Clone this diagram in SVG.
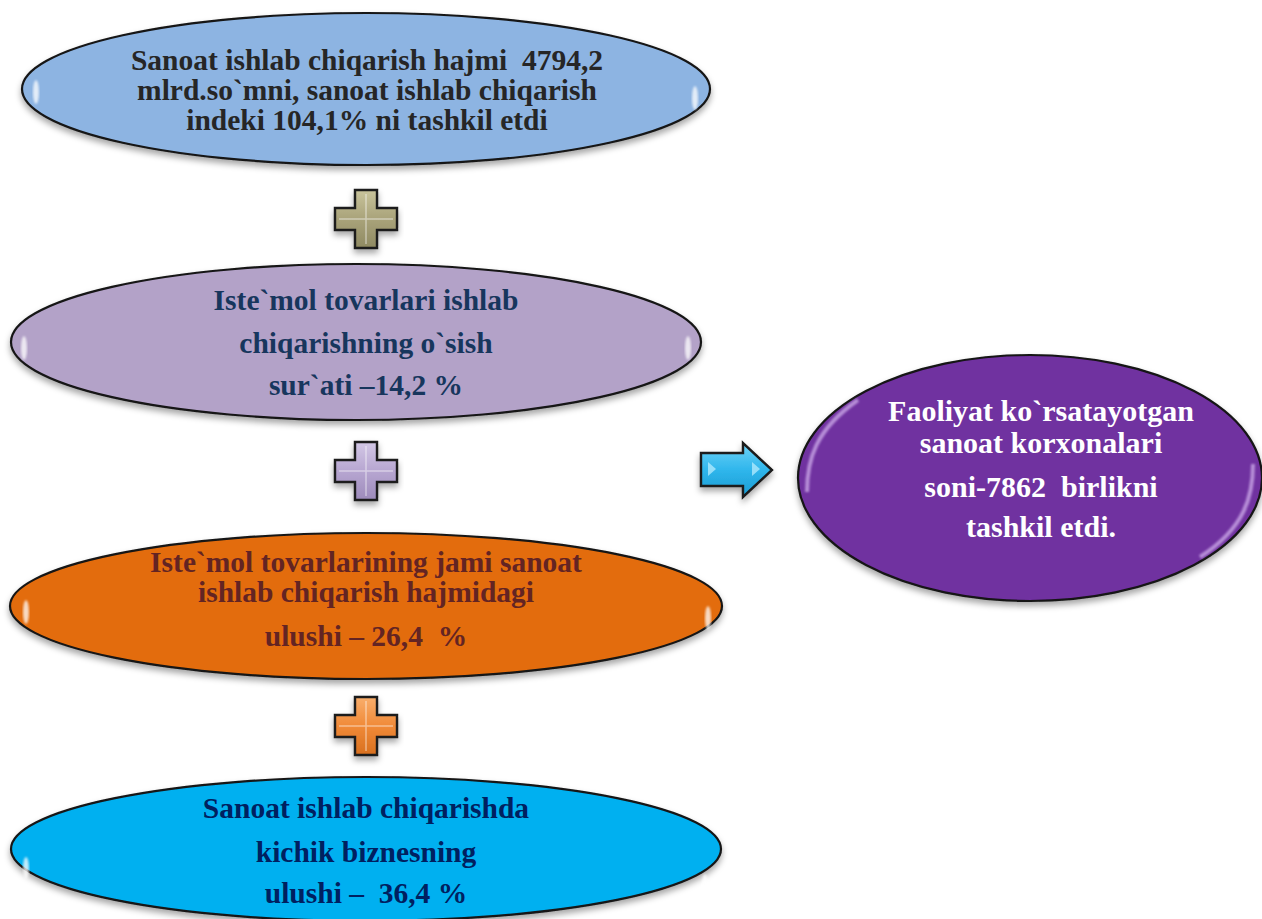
<svg xmlns="http://www.w3.org/2000/svg" width="1262" height="919" viewBox="0 0 1262 919">
<defs>
<style>
.t{font-family:"Liberation Serif","Times New Roman",serif;font-weight:bold;font-size:29.5px;text-anchor:middle}
.tr{font-size:30px}
.e{stroke:#151515;stroke-width:2.2}
.hl{fill:#ffffff;opacity:0.75}
.plus{stroke:#1a1a1a;stroke-width:2.4;stroke-linejoin:miter}
.pl{stroke:#ffffff;stroke-opacity:0.45;stroke-width:1.5;fill:none}
</style>
<filter id="sh" x="-10%" y="-20%" width="120%" height="150%">
<feDropShadow dx="0" dy="4" stdDeviation="3" flood-color="#000" flood-opacity="0.35"/>
</filter>
<filter id="bl"><feGaussianBlur stdDeviation="1.2"/></filter>
<linearGradient id="gP1" x1="0" y1="0" x2="0" y2="1"><stop offset="0" stop-color="#c9c49c"/><stop offset="0.5" stop-color="#a9a37a"/><stop offset="1" stop-color="#8f8a62"/></linearGradient>
<linearGradient id="gP2" x1="0" y1="0" x2="0" y2="1"><stop offset="0" stop-color="#d3c8e6"/><stop offset="0.5" stop-color="#b7a6d1"/><stop offset="1" stop-color="#9d8bbb"/></linearGradient>
<linearGradient id="gP3" x1="0" y1="0" x2="0" y2="1"><stop offset="0" stop-color="#f9ae6c"/><stop offset="0.5" stop-color="#f08a38"/><stop offset="1" stop-color="#d8701f"/></linearGradient>
<linearGradient id="gA" x1="0" y1="0" x2="0" y2="1"><stop offset="0" stop-color="#6fd3f7"/><stop offset="0.5" stop-color="#2fb6ec"/><stop offset="1" stop-color="#1a9bd2"/></linearGradient>
<path id="plusShape" d="M-11,-29 H11 V-11 H31 V11 H11 V29 H-11 V11 H-31 V-11 H-11 Z"/>
</defs>

<g id="node1">
<ellipse class="e" cx="366" cy="89" rx="344" ry="76" fill="#8db4e2" filter="url(#sh)"/>
<ellipse class="hl" cx="36" cy="92" rx="3" ry="12" filter="url(#bl)"/>
<ellipse class="hl" cx="695" cy="98" rx="3" ry="12" filter="url(#bl)"/>
<text class="t" fill="#262626" xml:space="preserve"><tspan x="367" y="70">Sanoat ishlab chiqarish hajmi  4794,2</tspan><tspan x="367" y="100">mlrd.so`mni, sanoat ishlab chiqarish</tspan><tspan x="367" y="130">indeki 104,1% ni tashkil etdi</tspan></text>
</g>

<g id="node2">
<ellipse class="e" cx="356" cy="342" rx="345" ry="78" fill="#b3a2c8" filter="url(#sh)"/>
<ellipse class="hl" cx="24" cy="348" rx="3" ry="12" filter="url(#bl)"/>
<ellipse class="hl" cx="688" cy="348" rx="3" ry="12" filter="url(#bl)"/>
<text class="t" fill="#17365d" xml:space="preserve"><tspan x="366" y="310">Iste`mol tovarlari ishlab</tspan><tspan x="366" y="353">chiqarishning o`sish</tspan><tspan x="366" y="395">sur`ati –14,2 %</tspan></text>
</g>

<g id="node3">
<ellipse class="e" cx="366" cy="606" rx="356" ry="73" fill="#e36c0a" filter="url(#sh)"/>
<ellipse class="hl" cx="26" cy="612" rx="3" ry="12" filter="url(#bl)"/>
<ellipse class="hl" cx="708" cy="618" rx="3" ry="12" filter="url(#bl)"/>
<text class="t" fill="#632423" xml:space="preserve"><tspan x="366" y="572">Iste`mol tovarlarining jami sanoat</tspan><tspan x="366" y="602">ishlab chiqarish hajmidagi</tspan><tspan x="366" y="646">ulushi – 26,4  %</tspan></text>
</g>

<g id="node4">
<ellipse class="e" cx="366" cy="849" rx="355" ry="72" fill="#00b0f0" filter="url(#sh)"/>
<ellipse class="hl" cx="26" cy="868" rx="3" ry="11" filter="url(#bl)"/>
<ellipse class="hl" cx="705" cy="885" rx="3" ry="11" filter="url(#bl)"/>
<text class="t" fill="#002060" xml:space="preserve"><tspan x="366" y="818">Sanoat ishlab chiqarishda</tspan><tspan x="366" y="862">kichik biznesning</tspan><tspan x="366" y="903">ulushi –  36,4 %</tspan></text>
</g>

<g id="node5">
<ellipse class="e" cx="1030" cy="478" rx="232" ry="123" fill="#7030a0" filter="url(#sh)"/>
<path d="M807,492 C807,460 815,430 858,400" stroke="#c9a6e6" stroke-width="4" fill="none" opacity="0.8" filter="url(#bl)"/>
<path d="M1253,464 C1253,496 1245,528 1200,557" stroke="#c9a6e6" stroke-width="4" fill="none" opacity="0.8" filter="url(#bl)"/>
<text class="t tr" fill="#ffffff" xml:space="preserve"><tspan x="1041" y="421">Faoliyat ko`rsatayotgan</tspan><tspan x="1041" y="453">sanoat korxonalari</tspan><tspan x="1041" y="497">soni-7862  birlikni</tspan><tspan x="1041" y="537">tashkil etdi.</tspan></text>
</g>

<g id="connectors">
<g transform="translate(366,219)">
<use href="#plusShape" class="plus" fill="url(#gP1)" filter="url(#sh)"/>
<path class="pl" d="M0,-25 V25 M-27,0 H27"/>
</g>
<g transform="translate(366,471)">
<use href="#plusShape" class="plus" fill="url(#gP2)" filter="url(#sh)"/>
<path class="pl" d="M0,-25 V25 M-27,0 H27"/>
</g>
<g transform="translate(366,726)">
<use href="#plusShape" class="plus" fill="url(#gP3)" filter="url(#sh)"/>
<path class="pl" d="M0,-25 V25 M-27,0 H27"/>
</g>
<g id="arrow">
<path d="M701,453 H743 V443 L772,470 L743,497 V486 H701 Z" fill="url(#gA)" stroke="#1a1a1a" stroke-width="2.4" stroke-linejoin="miter" filter="url(#sh)"/>
<path d="M708,462 L716,469 L708,476 Z" fill="#bff0ff" opacity="0.7"/>
<path d="M752,462 L760,469 L752,476 Z" fill="#bff0ff" opacity="0.7"/>
</g>
</g>
</svg>
